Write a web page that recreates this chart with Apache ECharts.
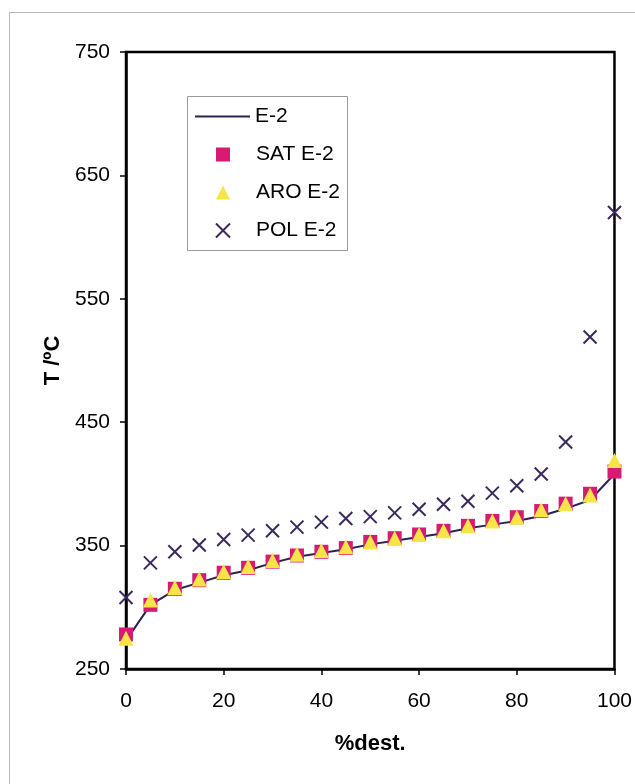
<!DOCTYPE html>
<html>
<head>
<meta charset="utf-8">
<script src="https://cdn.jsdelivr.net/npm/echarts@6/dist/echarts.min.js"></script>
<style>html,body{margin:0;padding:0;background:#fff}#c{width:635px;height:784px}</style>
</head>
<body>
<div id="c"></div>
<script>
var xValues = [0,5,10,15,20,25,30,35,40,45,50,55,60,65,70,75,80,85,90,95,100];
var lineE2 = [273,302,314,320,326,330,336,341,344,347,351,354,357,360,364,367,370,374,380,387,408];
var satE2 = [278,302,315,322,328,332,337,342,345,348,353,356,359,362,366,370,373,378,384,392,410];
var aroE2 = [275,306,316,323,329,333,338,343,346,349,353,356,359,362,366,370,373,379,384,391,419];
var polE2 = [308,336,345,350.5,355,358.5,362,365,369,372,373.5,376.5,379.5,383.5,386,392.5,398.5,408,434,519,620];
var xTicks = [0,20,40,60,80,100];
var yTicks = [250,350,450,550,650,750];

function pairs(v){ return xValues.map(function(x,i){ return [x, v[i]]; }); }
var font = '"Liberation Sans", Arial, sans-serif';
var chart = echarts.init(document.getElementById('c'));
chart.setOption({
  animation: false,
  backgroundColor: '#fff',
  graphic: [
    {type:'rect', shape:{x:9.5,y:12.5,width:640,height:790}, style:{fill:'none', stroke:'#b8b8b8', lineWidth:1}, z:-10},
    {type:'rect', shape:{x:187.5,y:96.5,width:160,height:154}, style:{fill:'#fff', stroke:'#9a9a9a', lineWidth:1}, z:5}
  ],
  grid: {left:126, right:20, top:52, bottom:115, show:true, borderColor:'#000', borderWidth:2.5, backgroundColor:'#fff'},
  xAxis: {
    type:'value', min:0, max:100, interval:20,
    name:'%dest.', nameLocation:'middle', nameGap:64,
    nameTextStyle:{fontFamily:font, fontSize:22, fontWeight:'bold', color:'#000'},
    axisLine:{show:true, lineStyle:{color:'#000', width:2.5}},
    axisTick:{show:true, length:6, lineStyle:{color:'#000', width:1.5}},
    axisLabel:{margin:22, fontFamily:font, fontSize:21, color:'#000', formatter:function(v){return xTicks.indexOf(v)>=0?String(v):'';}},
    splitLine:{show:false}
  },
  yAxis: {
    type:'value', min:250, max:750, interval:100,
    name:'T /ºC', nameLocation:'middle', nameGap:52, nameRotate:90,
    nameTextStyle:{fontFamily:font, fontSize:22, fontWeight:'bold', color:'#000'},
    axisLine:{show:true, lineStyle:{color:'#000', width:2.5}},
    axisTick:{show:true, length:6, lineStyle:{color:'#000', width:1.5}},
    axisLabel:{margin:16, fontFamily:font, fontSize:21, color:'#000', formatter:function(v){return yTicks.indexOf(v)>=0?String(v):'';}},
    splitLine:{show:false}
  },
  legend: [
    {data:[{name:'E-2', icon:'rect'}], left:195, top:106, orient:'vertical', padding:0, itemWidth:55, itemHeight:2, z:10,
     itemStyle:{color:'#2a2350'},
     textStyle:{fontFamily:font, fontSize:21, color:'#000', padding:[0,0,0,0]}},
    {data:['SAT E-2','ARO E-2','POL E-2'], left:215, top:144, orient:'vertical', padding:0, itemWidth:14, itemHeight:14, itemGap:17, z:10,
     textStyle:{fontFamily:font, fontSize:21, color:'#000', padding:[0,0,0,21]}}
  ],
  series: [
    {name:'E-2', type:'line', data:pairs(lineE2), showSymbol:false, symbol:'none', lineStyle:{color:'#2a2350', width:2}, itemStyle:{color:'#2a2350'}, z:2},
    {name:'SAT E-2', type:'scatter', data:pairs(satE2), symbol:'rect', symbolSize:14, itemStyle:{color:'#d81b72', opacity:1}, z:3},
    {name:'ARO E-2', type:'scatter', data:pairs(aroE2), symbol:'triangle', symbolSize:15, itemStyle:{color:'#f7e548', opacity:1}, z:4},
    {name:'POL E-2', type:'scatter', data:pairs(polE2), symbol:'path://M0,0L10,10M10,0L0,10', symbolSize:13,
     itemStyle:{color:'rgba(0,0,0,0)', borderColor:'#3a2a5c', borderWidth:2, opacity:1}, z:5}
  ]
});
</script>
</body>
</html>
